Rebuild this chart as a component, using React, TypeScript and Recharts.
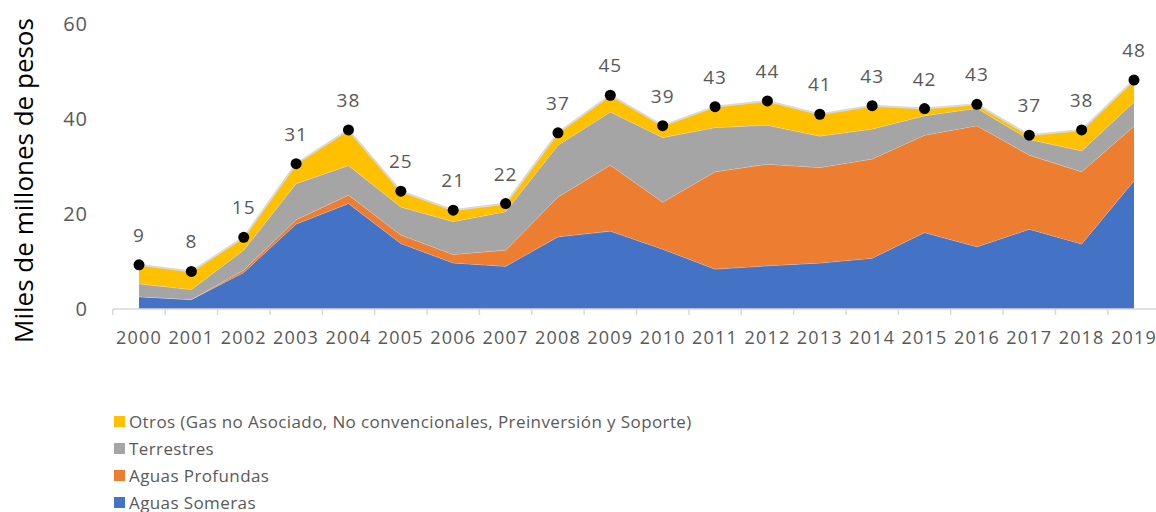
import {
  ComposedChart,
  Area,
  Line,
  XAxis,
  YAxis,
  Legend,
  LabelList,
} from "recharts";

const years = [
  "2000", "2001", "2002", "2003", "2004", "2005", "2006", "2007", "2008", "2009",
  "2010", "2011", "2012", "2013", "2014", "2015", "2016", "2017", "2018", "2019",
];
const aguasSomeras = [2.6, 2.0, 7.7, 17.9, 22.2, 13.8, 9.7, 9.0, 15.2, 16.4, 12.6, 8.4, 9.1, 9.7, 10.7, 16.1, 13.1, 16.8, 13.7, 27.0];
const aguasProfundas = [0, 0, 0.5, 0.9, 1.8, 1.8, 1.8, 3.4, 8.4, 13.9, 9.9, 20.5, 21.4, 20.1, 20.9, 20.5, 25.5, 15.6, 15.2, 11.5];
const terrestres = [2.7, 2.1, 4.2, 7.6, 6.2, 5.9, 6.9, 8.1, 10.9, 11.2, 13.6, 9.3, 8.2, 6.6, 6.3, 4.1, 3.65, 3.3, 4.4, 5.1];
const otros = [4.0, 3.8, 2.7, 4.2, 7.5, 3.3, 2.4, 1.7, 2.6, 3.5, 2.5, 4.4, 5.1, 4.6, 4.9, 1.5, 0.85, 0.9, 4.4, 4.6];
const yTicks = [0, 20, 40, 60];

const NAME_OTROS = "Otros (Gas no Asociado, No convencionales, Preinversión y Soporte)";
const NAME_TERRESTRES = "Terrestres";
const NAME_PROFUNDAS = "Aguas Profundas";
const NAME_SOMERAS = "Aguas Someras";
const legendOrder = [NAME_OTROS, NAME_TERRESTRES, NAME_PROFUNDAS, NAME_SOMERAS];

const COLORS: Record<string, string> = {
  [NAME_SOMERAS]: "#4472c4",
  [NAME_PROFUNDAS]: "#ed7d31",
  [NAME_TERRESTRES]: "#a5a5a5",
  [NAME_OTROS]: "#ffc000",
};

const data = years.map((year, i) => ({
  year,
  someras: aguasSomeras[i],
  profundas: aguasProfundas[i],
  terrestres: terrestres[i],
  otros: otros[i],
  total: Math.round((aguasSomeras[i] + aguasProfundas[i] + terrestres[i] + otros[i]) * 100) / 100,
}));

const FONT = '"Open Sans", sans-serif';
const TEXT = "#595959";
const AXIS = "#d9d9d9";
const CHART_W = 1156;
const CHART_H = 512;
const PLOT_LEFT = 113;
const PAD_L = 26;
const PAD_R = 22;
const STEP = (CHART_W - PLOT_LEFT - PAD_L - PAD_R) / (years.length - 1);

function YearTick(props: any) {
  const { x, y, payload } = props;
  return (
    <g>
      <line x1={x - STEP / 2} x2={x - STEP / 2} y1={y} y2={y + 6} stroke={AXIS} strokeWidth={1.5} />
      <text
        x={x}
        y={y + 35}
        textAnchor="middle"
        fill={TEXT}
        fontSize={18}
        fontFamily={FONT}
        letterSpacing={1.2}
      >
        {payload.value}
      </text>
    </g>
  );
}

function YTitle(props: any) {
  const { viewBox } = props;
  const cx = viewBox.x + 33;
  const cy = viewBox.y + viewBox.height / 2 + 14;
  return (
    <text
      transform={`translate(${cx},${cy}) rotate(-90)`}
      textAnchor="middle"
      fill="#000"
      fontSize={26}
      fontFamily={FONT}
    >
      Miles de millones de pesos
    </text>
  );
}

function TotalLabel(props: any) {
  const { x, y, value } = props;
  return (
    <text
      x={x}
      y={y - 23}
      textAnchor="middle"
      fill={TEXT}
      fontSize={19}
      fontFamily={FONT}
      letterSpacing={1}
    >
      {Math.round(value)}
    </text>
  );
}

function LegendList(props: any) {
  const items = (props.payload ?? [])
    .filter((p: any) => legendOrder.includes(p.value))
    .sort((a: any, b: any) => legendOrder.indexOf(a.value) - legendOrder.indexOf(b.value));
  return (
    <div style={{ fontFamily: FONT, fontSize: 17, color: TEXT, letterSpacing: 0.4 }}>
      {items.map((p: any) => (
        <div key={p.value} style={{ height: 27, display: "flex", alignItems: "center", whiteSpace: "nowrap" }}>
          <span
            style={{
              display: "inline-block",
              width: 11,
              height: 11,
              background: COLORS[p.value],
              marginRight: 4,
            }}
          />
          {p.value}
        </div>
      ))}
    </div>
  );
}

export default function App() {
  return (
    <div style={{ position: "absolute", left: 0, top: 0, width: CHART_W, height: CHART_H, background: "#fff" }}>
      <ComposedChart
        width={CHART_W}
        height={CHART_H}
        data={data}
        margin={{ top: 24, right: 0, left: 0, bottom: 163 }}
      >
        <XAxis
          dataKey="year"
          height={40}
          padding={{ left: PAD_L, right: PAD_R }}
          axisLine={{ stroke: AXIS, strokeWidth: 1.5 }}
          tickLine={false}
          tickSize={0}
          tickMargin={0}
          interval={0}
          tick={<YearTick />}
        />
        <YAxis
          width={PLOT_LEFT}
          domain={[0, 60]}
          ticks={yTicks}
          axisLine={false}
          tickLine={false}
          tickSize={0}
          tickMargin={25}
          tick={{ fill: TEXT, fontSize: 20, fontFamily: FONT, letterSpacing: 1 }}
          label={(p: any) => <YTitle {...p} />}
        />
        <Legend
          layout="horizontal"
          verticalAlign="middle"
          align="center"
          wrapperStyle={{ position: "absolute", left: 114, top: 408, width: 700, height: 110 }}
          content={<LegendList />}
        />
        <Area
          type="linear"
          dataKey="someras"
          name={NAME_SOMERAS}
          stackId="1"
          fill={COLORS[NAME_SOMERAS]}
          fillOpacity={1}
          stroke="#ffffff"
          strokeOpacity={0.6}
          strokeWidth={0.75}
          isAnimationActive={false}
        />
        <Area
          type="linear"
          dataKey="profundas"
          name={NAME_PROFUNDAS}
          stackId="1"
          fill={COLORS[NAME_PROFUNDAS]}
          fillOpacity={1}
          stroke="#ffffff"
          strokeOpacity={0.6}
          strokeWidth={0.75}
          isAnimationActive={false}
        />
        <Area
          type="linear"
          dataKey="terrestres"
          name={NAME_TERRESTRES}
          stackId="1"
          fill={COLORS[NAME_TERRESTRES]}
          fillOpacity={1}
          stroke="#ffffff"
          strokeOpacity={0.6}
          strokeWidth={0.75}
          isAnimationActive={false}
        />
        <Area
          type="linear"
          dataKey="otros"
          name={NAME_OTROS}
          stackId="1"
          fill={COLORS[NAME_OTROS]}
          fillOpacity={1}
          stroke="#d9d9d9"
          strokeWidth={2}
          isAnimationActive={false}
        />
        <Line
          type="linear"
          dataKey="total"
          name="Total"
          stroke="none"
          legendType="none"
          dot={{ r: 5.5, fill: "#000", stroke: "none" }}
          activeDot={false}
          isAnimationActive={false}
        >
          <LabelList dataKey="total" content={<TotalLabel />} />
        </Line>
      </ComposedChart>
    </div>
  );
}
